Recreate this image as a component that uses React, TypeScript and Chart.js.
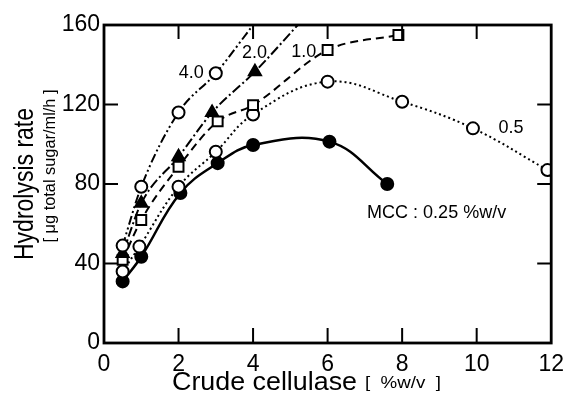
import { useEffect, useRef } from "react";
import { Chart, registerables } from "chart.js";

Chart.register(...registerables);

// ---- data ----
const xTicks = [0, 2, 4, 6, 8, 10, 12];
const yTicks = [0, 40, 80, 120, 160];

// 4.0 %w/v (open circles); last point = where the fitted curve meets the frame (no marker)
const x40 = [0.5, 1, 2, 3, 4.0];
const y40 = [49, 78.6, 116, 135.7, 160];
// 2.0 %w/v (filled triangles); last point = curve end at frame (no marker)
const x20 = [0.5, 1, 2, 2.9, 4.05, 5.2];
const y20 = [45, 70.3, 93.7, 116, 136.5, 160];
// 1.0 %w/v (open squares)
const x10 = [0.5, 1, 2, 3.05, 4, 6, 7.9];
const y10 = [41.8, 61.9, 88.7, 111.5, 119.7, 147.4, 155];
// 0.5 %w/v (open circles, dotted)
const x05 = [0.5, 0.95, 2, 3, 4, 6, 8, 9.9, 11.9];
const y05 = [36, 48.5, 78.6, 96.2, 115, 131.5, 121.4, 108, 87];
// MCC 0.25 %w/v (filled circles, solid)
const xMcc = [0.5, 1, 2.05, 3.05, 4, 6.05, 7.6];
const yMcc = [31, 43.4, 75.5, 90.5, 99.6, 101.3, 80];

// curve labels (anchored in data coordinates)
const labelText = ["4.0", "2.0", "1.0", "0.5", "MCC : 0.25 %w/v"];
const labelX = [2.34, 4.04, 5.36, 10.92, 7.06];
const labelY = [135.8, 145.9, 146.4, 108.2, 65.4];
const labelAlign = ["center", "center", "center", "center", "left"];

const FONT = "'Liberation Sans', Arial, sans-serif";

const toPts = (xs: number[], ys: number[]) => xs.map((x, i) => ({ x, y: ys[i] }));

function drawFitted(
  ctx: CanvasRenderingContext2D,
  text: string,
  size: number,
  x: number,
  y: number,
  width: number,
  rotate: boolean,
  align: "left" | "center"
) {
  ctx.save();
  ctx.font = `${size}px ${FONT}`;
  const w = ctx.measureText(text).width;
  const s = width / w;
  ctx.translate(x, y);
  if (rotate) ctx.rotate(-Math.PI / 2);
  ctx.scale(s, 1);
  ctx.textAlign = align;
  ctx.textBaseline = "alphabetic";
  ctx.fillStyle = "#000";
  ctx.fillText(text, 0, 0);
  ctx.restore();
}

const framePlugin = {
  id: "frameAndText",
  afterDatasetsDraw(chart: any) {
    const { ctx, chartArea: a, scales } = chart;
    const xs = scales.x;
    const ys = scales.y;
    ctx.save();
    ctx.strokeStyle = "#000";
    ctx.lineWidth = 2.8;
    ctx.setLineDash([]);
    ctx.strokeRect(a.left, a.top, a.right - a.left, a.bottom - a.top);
    ctx.lineWidth = 2;
    ctx.beginPath();
    xTicks.slice(1, -1).forEach((v) => {
      const px = xs.getPixelForValue(v);
      ctx.moveTo(px, a.bottom);
      ctx.lineTo(px, a.bottom - 15);
      ctx.moveTo(px, a.top);
      ctx.lineTo(px, a.top + 14);
    });
    yTicks.slice(1, -1).forEach((v) => {
      const py = ys.getPixelForValue(v);
      ctx.moveTo(a.left, py);
      ctx.lineTo(a.left + 14, py);
      ctx.moveTo(a.right, py);
      ctx.lineTo(a.right - 14, py);
    });
    ctx.stroke();

    // curve labels
    ctx.fillStyle = "#000";
    ctx.font = `18px ${FONT}`;
    ctx.textBaseline = "middle";
    labelText.forEach((t, i) => {
      ctx.textAlign = labelAlign[i] as CanvasTextAlign;
      ctx.fillText(t, xs.getPixelForValue(labelX[i]), ys.getPixelForValue(labelY[i]));
    });
    ctx.restore();

    // axis titles
    drawFitted(ctx, "Crude cellulase", 25, 172, 390, 185, false, "left");
    drawFitted(ctx, "[  %w/v  ]", 17, 365, 388, 76, false, "left");
    drawFitted(ctx, "Hydrolysis rate", 28, 33, 184, 152, true, "center");
    drawFitted(ctx, "[ μg total sugar/ml/h ]", 16, 55, 166, 153, true, "center");
  },
};

export default function App() {
  const ref = useRef<HTMLCanvasElement | null>(null);
  useEffect(() => {
    if (!ref.current) return;
    const common = {
      borderColor: "#000",
      pointBorderColor: "#000",
      pointBorderWidth: 2,
      borderWidth: 2,
      tension: 0.4,
      fill: false,
    };
    const chart = new Chart(ref.current, {
      type: "line",
      data: {
        datasets: [
          {
            ...common,
            label: "4.0",
            data: toPts(x40, y40),
            cubicInterpolationMode: "monotone",
            borderDash: [9, 3, 2, 3, 2, 3],
            pointStyle: "circle",
            pointRadius: x40.map((_, i) => (i === x40.length - 1 ? 0 : 6)),
            pointBackgroundColor: "#fff",
          },
          {
            ...common,
            label: "2.0",
            data: toPts(x20, y20),
            cubicInterpolationMode: "monotone",
            borderDash: [10, 3, 2, 3],
            pointStyle: "triangle",
            pointRadius: x20.map((_, i) => (i === x20.length - 1 ? 0 : 7)),
            pointBackgroundColor: "#000",
          },
          {
            ...common,
            label: "1.0",
            data: toPts(x10, y10),
            cubicInterpolationMode: "monotone",
            borderDash: [8, 5],
            pointStyle: "rect",
            pointRadius: 7,
            pointBackgroundColor: "#fff",
          },
          {
            ...common,
            label: "0.5",
            data: toPts(x05, y05),
            borderDash: [2, 3],
            pointStyle: "circle",
            pointRadius: 6,
            pointBackgroundColor: "#fff",
          },
          {
            ...common,
            label: "MCC",
            data: toPts(xMcc, yMcc),
            borderWidth: 2.5,
            pointStyle: "circle",
            pointRadius: 6,
            pointBackgroundColor: "#000",
          },
        ],
      },
      options: {
        animation: false,
        responsive: false,
        layout: { padding: { top: 25, right: 11, left: 0, bottom: 0 } },
        plugins: { legend: { display: false }, tooltip: { enabled: false } },
        scales: {
          x: {
            type: "linear",
            min: 0,
            max: 12,
            afterFit: (s: any) => {
              s.height = 54;
            },
            afterBuildTicks: (s: any) => {
              s.ticks = xTicks.map((v) => ({ value: v }));
            },
            ticks: {
              color: "#000",
              font: { family: FONT, size: 23 },
              padding: 8,
              maxRotation: 0,
              autoSkip: false,
            },
            grid: { display: false, drawTicks: false },
            border: { display: false },
          },
          y: {
            type: "linear",
            min: 0,
            max: 160,
            afterFit: (s: any) => {
              s.width = 104;
            },
            afterBuildTicks: (s: any) => {
              s.ticks = yTicks.map((v) => ({ value: v }));
            },
            ticks: {
              color: "#000",
              font: { family: FONT, size: 23 },
              padding: 4,
              autoSkip: false,
            },
            grid: { display: false, drawTicks: false },
            border: { display: false },
          },
        },
      },
      plugins: [framePlugin],
    } as any);
    return () => chart.destroy();
  }, []);
  return (
    <div style={{ position: "fixed", left: 0, top: 0, width: 572, height: 397, background: "#fff" }}>
      <canvas ref={ref} width={572} height={397} style={{ display: "block" }} />
    </div>
  );
}
